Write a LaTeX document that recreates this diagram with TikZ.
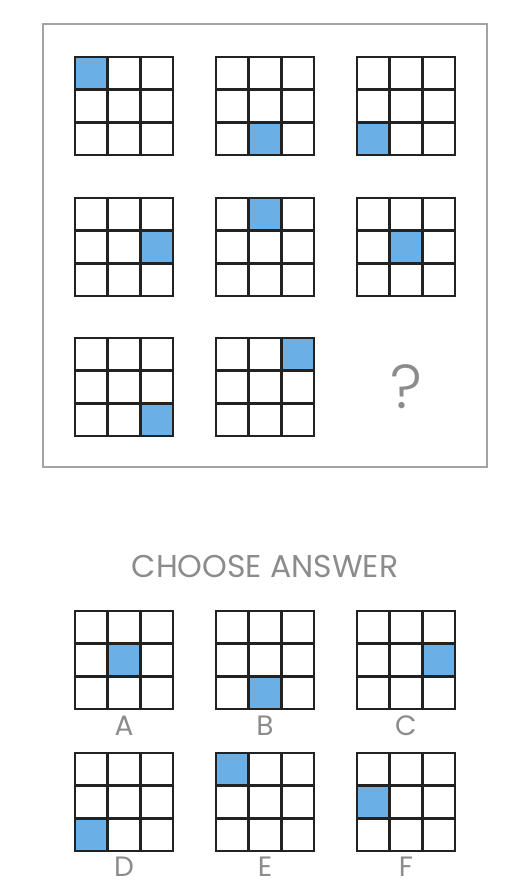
\documentclass[tikz,border=0pt]{standalone}
\usepackage{fontspec}
\setmainfont{Poppins}
\newfontfamily\lightfont{Poppins Light}
\definecolor{cellblue}{HTML}{6AAFE6}
\definecolor{framegray}{HTML}{A3A3A3}
\definecolor{textgray}{HTML}{8C8C8C}
\definecolor{linedark}{HTML}{222222}
\tikzset{
  gridline/.style={draw=linedark, line width=2.8pt, line cap=rect},
  lbl/.style={text=textgray, font=\fontsize{28}{28}\selectfont, inner sep=0pt, anchor=center},
  pics/pgrid/.style n args={2}{code={
    \fill[cellblue] ({#2*98/3},{#1*98/3}) rectangle ++(98/3,98/3);
    \foreach \i in {0,1,2,3}{
      \draw[gridline] ({\i*98/3},0) -- ({\i*98/3},98);
      \draw[gridline] (0,{\i*98/3}) -- (98,{\i*98/3});
    }
  }}
}
\begin{document}
\begin{tikzpicture}[x=1pt,y=-1pt]
\useasboundingbox[fill=white] (0,0) rectangle (518,893);
% frame
\draw[framegray, line width=2pt] (43,24) rectangle (487,467);
% puzzle grids
\pic at (75,57)   {pgrid={0}{0}};
\pic at (216,57)  {pgrid={2}{1}};
\pic at (357,57)  {pgrid={2}{0}};
\pic at (75,198)  {pgrid={1}{2}};
\pic at (216,198) {pgrid={0}{1}};
\pic at (357,198) {pgrid={1}{1}};
\pic at (75,338)  {pgrid={2}{2}};
\pic at (216,338) {pgrid={0}{2}};
\node[text=textgray, font=\lightfont\fontsize{62}{62}\selectfont, inner sep=0pt] (q) at (406,387) {?};
% answers
\node[lbl, font=\fontsize{31.5}{31.5}\selectfont] (title) at (265,566) {CHOOSE ANSWER};
\pic at (75,611)  {pgrid={1}{1}};
\pic at (216,611) {pgrid={2}{1}};
\pic at (357,611) {pgrid={1}{2}};
\pic at (75,753)  {pgrid={2}{0}};
\pic at (216,753) {pgrid={0}{0}};
\pic at (357,753) {pgrid={1}{0}};
\node[lbl] (la) at (124,726) {A};
\node[lbl] (lb) at (265,726) {B};
\node[lbl] (lc) at (406,726) {C};
\node[lbl] (ld) at (124,867) {D};
\node[lbl] (le) at (265,867) {E};
\node[lbl] (lf) at (406,867) {F};
\end{tikzpicture}
\end{document}
